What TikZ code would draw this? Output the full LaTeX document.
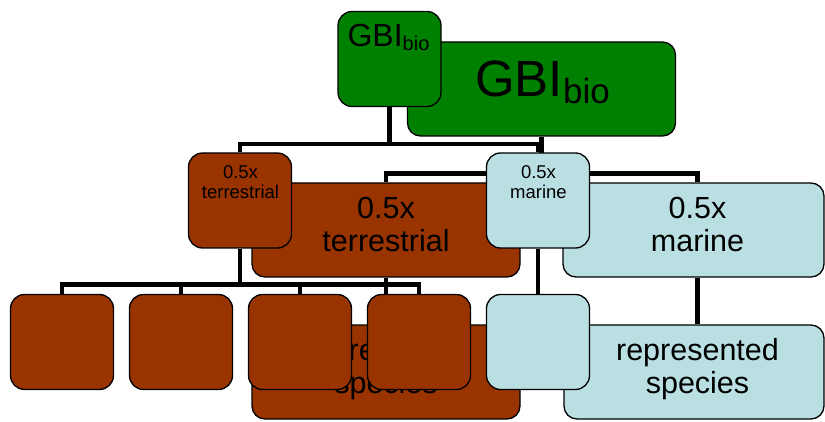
\documentclass[tikz,border=0pt]{standalone}
\usepackage{fontspec}
\setmainfont{Liberation Sans}
\usetikzlibrary{positioning}
\definecolor{gbigreen}{RGB}{0,128,0}
\definecolor{terrbrown}{RGB}{153,51,0}
\definecolor{marblue}{RGB}{186,223,227}

\begin{document}
\begin{tikzpicture}[x=1pt,y=-1pt,node distance=119pt,
  link/.style={line width=4.5pt},
  small box/.style={draw,line width=1.3pt,rounded corners=14pt,minimum width=103pt,minimum height=95pt,inner sep=0pt},
  big box/.style={draw,line width=1.3pt,rounded corners=13pt,minimum width=268pt,minimum height=94pt,inner sep=0pt},
  small text/.style={inner sep=0pt,align=center,font=\fontsize{18.5}{20.5}\selectfont},
  big text/.style={inner sep=0pt,align=center,font=\fontsize{30.5}{33.5}\selectfont}]

  \useasboundingbox (0,0) rectangle (825,422);

  \node[big box,fill=gbigreen] (bGBI) at (541.5,89) {};
  \node[big box,fill=terrbrown] (bTerr) at (386,230) {};
  \node[big box,fill=marblue,minimum width=261pt] (bMar) at (693.5,230) {};
  \node[big box,fill=terrbrown] (bSpecT) at (386,372) {};
  \node[big box,fill=marblue,minimum width=260pt] (bSpecM) at (694,372) {};

  \node[anchor=base,inner sep=0pt] (bGBItxt) at (542.5,96.7)
    {\fontsize{51}{51}\selectfont GBI\raisebox{-6.6pt}{\fontsize{35}{35}\selectfont bio}};
  \node[big text,anchor=north] (bTerrTxt) at (386,197) {0.5x\\terrestrial};
  \node[big text,anchor=north] (bMarTxt) at (697.5,197) {0.5x\\marine};
  \node[big text,anchor=north] (bSpecTTxt) at (386,338) {represented\\species};
  \node[big text,anchor=north] (bSpecMTxt) at (697.5,338) {represented\\species};

  \draw[link] (bGBI.south) -- ++(0,37) coordinate (bj);
  \draw[link] (bTerr.north) |- (bj) -| (bMarTxt.north |- bMar.north);
  \draw[link] (bTerr.south) -- (bSpecT.north);
  \draw[link] (bMar.south -| bMarTxt.north) -- (bSpecM.north -| bMarTxt.north);

  \node[small box,fill=gbigreen] (sGBI) at (389.5,59) {};
  \node[small box,fill=terrbrown] (sTerr) at (240,200.5) {};
  \node[small box,fill=marblue] (sMar) at (538,200.5) {};
  \node[small box,fill=terrbrown] (t1) at (62,342) {};
  \node[small box,fill=terrbrown] (t2) [right of=t1] {};
  \node[small box,fill=terrbrown] (t3) [right of=t2] {};
  \node[small box,fill=terrbrown] (t4) [right of=t3] {};
  \node[small box,fill=marblue] (m1) [right of=t4] {};

  \node[anchor=base,inner sep=0pt] (sGBItxt) at (388.5,46.7)
    {\fontsize{32}{32}\selectfont GBI\raisebox{-3.5pt}{\fontsize{20}{20}\selectfont bio}};
  \node[small text,anchor=north] (sTerrTxt) at (240.5,165) {0.5x\\terrestrial};
  \node[small text,anchor=north] (sMarTxt) at (538.5,165) {0.5x\\marine};

  \draw[link] (sGBI.south) -- ++(0,37) coordinate (sj);
  \draw[link] (sTerr.north) |- (sj) -| (sMar.north);
  \draw[link] (sTerr.south) -- ++(0,36) coordinate (tj);
  \foreach \n in {t1,t2,t3,t4}
    \draw[link] (tj) -| (\n.north);
  \draw[link] (sMar.south) -- (m1.north);

\end{tikzpicture}
\end{document}
